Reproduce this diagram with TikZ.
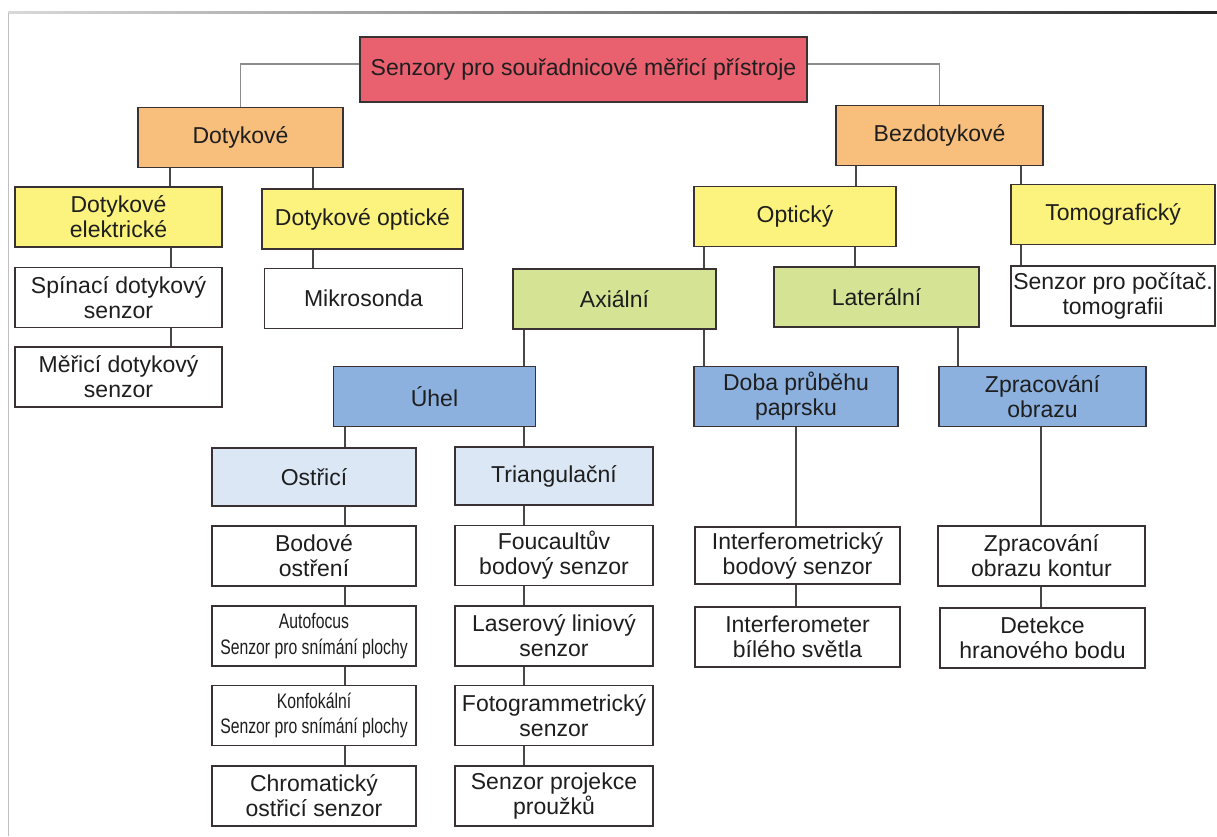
\documentclass[tikz,border=0pt]{standalone}
\usepackage{fontspec}
\setmainfont{Liberation Sans}
\usepackage{graphicx}
\usetikzlibrary{positioning}

\definecolor{rootred}{HTML}{E9606E}
\definecolor{orangefill}{HTML}{F7BE7C}
\definecolor{yellowfill}{HTML}{FBF37D}
\definecolor{greenfill}{HTML}{D5E394}
\definecolor{bluefill}{HTML}{8DB1DF}
\definecolor{palefill}{HTML}{DCE7F5}
\definecolor{boxline}{HTML}{3A3232}
\definecolor{textdark}{HTML}{1E1E1E}

\tikzset{
  box/.style={draw=boxline, line width=1.2pt, rectangle, align=center,
    inner sep=2pt, text=textdark, font=\fontsize{23}{25}\selectfont,
    minimum width=\bw, minimum height=\bh, fill=white},
  redbox/.style={box, fill=rootred},
  orangebox/.style={box, fill=orangefill},
  yellowbox/.style={box, fill=yellowfill},
  greenbox/.style={box, fill=greenfill},
  bluebox/.style={box, fill=bluefill},
  palebox/.style={box, fill=palefill},
  smalltext/.style={font=\fontsize{21}{25.5}\selectfont},
  link/.style={draw=black!72, line width=1.3pt},
  rootlink/.style={draw=black!45, line width=1.3pt}
}

% box size
\def\bw{204}
\def\bh{60}

% narrow lines
\newcommand{\nrw}[1]{\scalebox{0.75}[1]{#1}}

% vertical connector at a given x
\newcommand{\vlink}[3]{\draw[link] (#1.south -| #3,0) -- (#2.north -| #3,0);}

\begin{document}
\begin{tikzpicture}[x=1pt, y=-1pt]

\useasboundingbox (0,0) rectangle (1217,836);
\fill[white] (0,0) rectangle (1217,836);

% page edge
\shade[left color=black!15, right color=black!85] (8,11) rectangle (1217,13.5);
\draw[black!25, line width=1pt] (8,13) -- (8,836);

% top
\node[redbox, minimum width=447, minimum height=65] (root) at (583.5,69.5) {Senzory pro souřadnicové měřicí přístroje};

\node[orangebox, minimum width=205] (dotyk) at (240.5,137.5) {Dotykové};
\node[orangebox, minimum width=207] (bezdotyk) at (939.5,135.5) {Bezdotykové};

% dotykove
\node[yellowbox, minimum width=207] (dotykel) at (118.5,217) {Dotykové\\elektrické};
\node[yellowbox, minimum width=201] (dotykopt) at (362.5,219) {Dotykové optické};
\node[box, minimum width=207] (spin) at (118.5,297.5) {Spínací dotykový\\senzor};
\node[box, minimum width=198] (mikro) at (363.5,298.5) {Mikrosonda};
\node[box, minimum width=207] (meric) at (118.5,377) {Měřicí dotykový\\senzor};

% bezdotykove
\node[yellowbox, minimum width=202] (optic) at (795,216.5) {Optický};
\node[yellowbox] (tomo) at (1113,214.5) {Tomografický};
\node[box] (tomosen) at (1113,296) {Senzor pro počítač.\\tomografii};

\node[greenbox, minimum width=203] (axial) at (614.5,299) {Axiální};
\node[greenbox, minimum width=205] (lateral) at (876.5,297) {Laterální};

\node[bluebox, minimum width=202] (uhel) at (434.5,396.5) {Úhel};
\node[bluebox] (doba) at (796,396.5) {Doba průběhu\\paprsku};
\node[bluebox, minimum width=207] (zprac) at (1042.5,396.5) {Zpracování\\obrazu};

% uhel
\node[palebox, minimum height=58] (ostr) at (314,477) {Ostřicí};
\node[palebox, minimum width=198, minimum height=58] (triang) at (554,476) {Triangulační};

\node[box] (bodove) at (314,556) {Bodové\\ostření};
\node[box, smalltext] (autof) at (314,636) {\nrw{Autofocus}\\\nrw{Senzor pro snímání plochy}};
\node[box, smalltext] (konfok) at (314,715.5) {\nrw{Konfokální}\\\nrw{Senzor pro snímání plochy}};
\node[box] (chrom) at (314,796) {Chromatický\\ostřicí senzor};

\node[box, minimum width=198] (fouc) at (554,555.5) {Foucaultův\\bodový senzor};
\node[box, minimum width=198] (laser) at (554,636) {Laserový liniový\\senzor};
\node[box, minimum width=198] (foto) at (554,715.5) {Fotogrammetrický\\senzor};
\node[box, minimum width=198] (projek) at (554,796) {Senzor projekce\\proužků};

% doba, zpracovani
\node[box, minimum width=205, minimum height=57] (intbod) at (797.5,555.5) {Interferometrický\\bodový senzor};
\node[box, minimum width=205] (intbil) at (797.5,637) {Interferometer\\bílého světla};
\node[box, minimum width=207] (kontur) at (1041.5,556) {Zpracování\\obrazu kontur};
\node[box, minimum width=205] (detek) at (1042.5,638) {Detekce\\hranového bodu};

% connectors
\draw[rootlink] (root.west |- 0,64) -| (dotyk.north);
\draw[rootlink] (root.east |- 0,64) -| (bezdotyk.north);

\vlink{dotyk}{dotykel}{170}
\vlink{dotyk}{dotykopt}{313}
\vlink{dotykel}{spin}{171}
\vlink{spin}{meric}{171}
\vlink{dotykopt}{mikro}{313}

\vlink{bezdotyk}{optic}{856}
\vlink{bezdotyk}{tomo}{1021}
\vlink{tomo}{tomosen}{1021}
\vlink{optic}{axial}{704}
\vlink{optic}{lateral}{855}
\vlink{axial}{uhel}{524}
\vlink{axial}{doba}{704}
\vlink{lateral}{zprac}{958}
\vlink{uhel}{ostr}{345}
\vlink{uhel}{triang}{524}

\foreach \a/\b in {ostr/bodove, bodove/autof, autof/konfok, konfok/chrom}
  {\vlink{\a}{\b}{345}}
\foreach \a/\b in {triang/fouc, fouc/laser, laser/foto, foto/projek}
  {\vlink{\a}{\b}{524}}

\vlink{doba}{intbod}{796}
\vlink{intbod}{intbil}{796}
\vlink{zprac}{kontur}{1041}
\vlink{kontur}{detek}{1041}

\end{tikzpicture}
\end{document}
